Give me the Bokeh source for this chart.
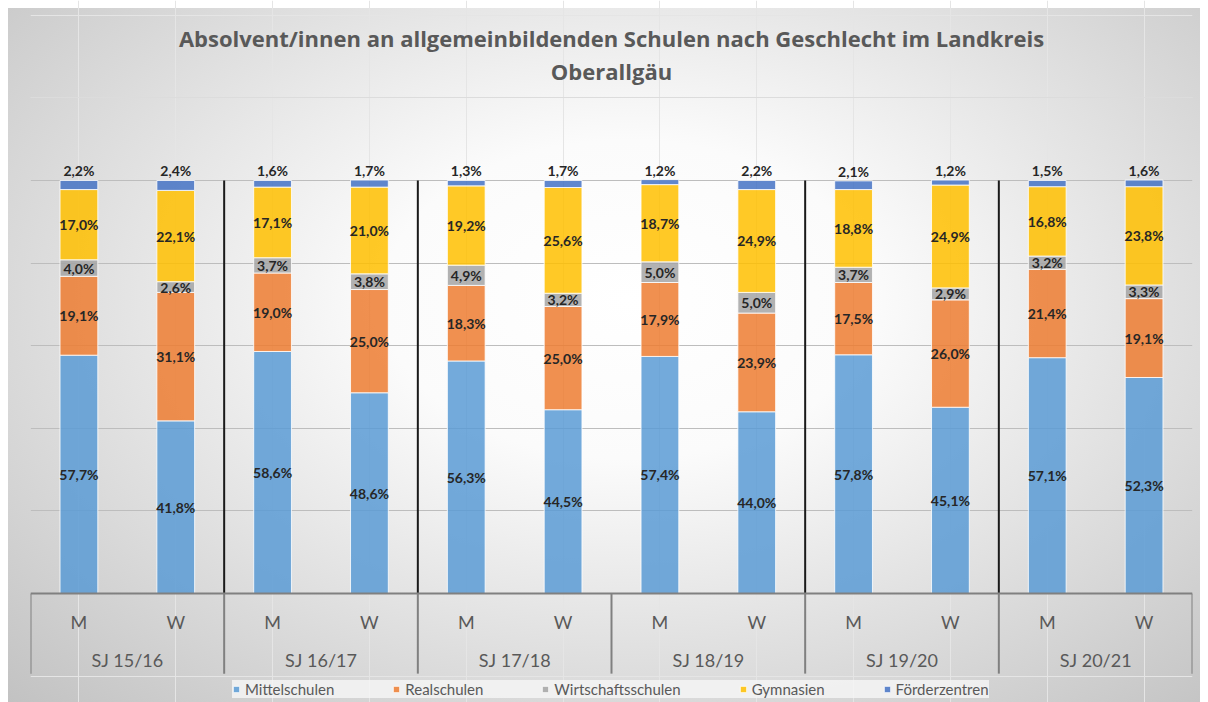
from bokeh.plotting import figure
from bokeh.models import (FactorRange, Range1d, ColumnDataSource, Grid, FixedTicker,
                          Span, Legend, LegendItem)
from bokeh.core.properties import value
from bokeh.embed import file_html
from bokeh.resources import INLINE

title_lines = ["Absolvent/innen an allgemeinbildenden Schulen nach Geschlecht im Landkreis",
               "Oberallgäu"]
years = ["SJ 15/16", "SJ 16/17", "SJ 17/18", "SJ 18/19", "SJ 19/20", "SJ 20/21"]
genders = ["M", "W"]
series = ["Mittelschulen", "Realschulen", "Wirtschaftsschulen", "Gymnasien", "Förderzentren"]
colors = ["#5B9BD5", "#ED7D31", "#A5A5A5", "#FFC000", "#4472C4"]

# values in percent, order: (15/16 M, 15/16 W, 16/17 M, 16/17 W, ...)
mittelschulen = [57.7, 41.8, 58.6, 48.6, 56.3, 44.5, 57.4, 44.0, 57.8, 45.1, 57.1, 52.3]
realschulen = [19.1, 31.1, 19.0, 25.0, 18.3, 25.0, 17.9, 23.9, 17.5, 26.0, 21.4, 19.1]
wirtschaftsschulen = [4.0, 2.6, 3.7, 3.8, 4.9, 3.2, 5.0, 5.0, 3.7, 2.9, 3.2, 3.3]
gymnasien = [17.0, 22.1, 17.1, 21.0, 19.2, 25.6, 18.7, 24.9, 18.8, 24.9, 16.8, 23.8]
foerderzentren = [2.2, 2.4, 1.6, 1.7, 1.3, 1.7, 1.2, 2.2, 2.1, 1.2, 1.5, 1.6]
dividers_after = ["SJ 15/16", "SJ 16/17", "SJ 18/19", "SJ 19/20"]
grid_ticks = [0.2, 0.4, 0.6, 0.8, 1.0]
top_grid_ticks = [1.2]

factors = [(y, g) for y in years for g in genders]
values = [mittelschulen, realschulen, wirtschaftsschulen, gymnasien, foerderzentren]

data = {"x": factors}
for name, vals in zip(series, values):
    data[name] = [v / 100 for v in vals]
src = ColumnDataSource(data)

W, H = 1200, 702
p = figure(width=W, height=H,
           x_range=FactorRange(factors=factors, factor_padding=0, group_padding=0,
                               subgroup_padding=0, range_padding=0),
           y_range=Range1d(-0.2639, 1.4358),
           x_axis_location=None, y_axis_location=None,
           output_backend="svg", toolbar_location=None,
           min_border_left=30, min_border_right=8, min_border_top=0, min_border_bottom=0)
p.extra_y_ranges = {"py": Range1d(H, 0)}
p.background_fill_color = None
p.border_fill_color = None
p.outline_line_color = None
p.styles = {"background": "radial-gradient(ellipse farthest-corner at 52% 42%, #ffffff 0%, #fbfbfb 28%, #c2c2c2 100%) 8px 8px / calc(100% - 8px) calc(100% - 8px) no-repeat, #ffffff"}

p.add_layout(Grid(dimension=1, ticker=FixedTicker(ticks=grid_ticks),
                  grid_line_color="#bdbdbd", grid_line_width=1))
p.add_layout(Grid(dimension=1, ticker=FixedTicker(ticks=top_grid_ticks),
                  grid_line_color="#dcdcdc", grid_line_width=1))

rs = p.vbar_stack(series, x="x", width=0.39, source=src, color=colors,
                  fill_alpha=0.85, line_color="white", line_alpha=0.8, line_width=1)

# data labels
lx, ly, lt = [], [], []
tx, ty, tt = [], [], []
for i, f in enumerate(factors):
    bottom = 0.0
    for k, vals in enumerate(values):
        v = vals[i] / 100
        label = f"{vals[i]:.1f}".replace(".", ",") + "%"
        if k < len(values) - 1:
            lx.append(f); ly.append(bottom + v / 2); lt.append(label)
        else:
            tx.append(f); ty.append(bottom + v); tt.append(label)
        bottom += v
p.text(x=lx, y=ly, text=lt, text_font=value("Lato"), text_font_style="bold",
       text_font_size="14px", text_color="#262626", text_align="center", text_baseline="middle")
p.text(x=tx, y=ty, text=tt, text_font=value("Lato"), text_font_style="bold",
       text_font_size="14px", text_color="#262626", text_align="center", text_baseline="bottom",
       y_offset=-1)

# dark dividers between groups
dx = [(g, "W", 0.5) for g in dividers_after]
p.segment(x0=dx, y0=[0] * len(dx), x1=dx, y1=[1.0] * len(dx), line_color="#1a1a1a", line_width=2)

# axis table
p.add_layout(Span(location=0, dimension="width", line_color="#808080", line_width=2))
bx = [(g, "M", -0.5) for g in years] + [(years[-1], "W", 0.5)]
p.segment(x0=bx, y0=[0] * len(bx), x1=bx, y1=[-0.194] * len(bx), line_color="#808080", line_width=2)
p.text(x=factors, y=[-0.07] * len(factors), text=[f[1] for f in factors], text_font=value("Lato"),
       text_font_size="18px", text_color="#595959", text_align="center", text_baseline="middle")
gx = [(g, "M", 0.5) for g in years]
p.text(x=gx, y=[-0.162] * len(gx), text=years, text_font=value("Lato"),
       text_font_size="18px", text_color="#595959", text_align="center", text_baseline="middle")

# title (centered on the middle of the category range)
mid = (years[len(years) // 2 - 1], "W", 0.5)
p.text(x=[mid, mid], y=[37, 70], text=title_lines, y_range_name="py",
       text_font=value("Open Sans"), text_font_style="bold", text_font_size="22px",
       text_color="#595959", text_align="center", text_baseline="middle")

legend = Legend(items=[LegendItem(label=s, renderers=[r]) for s, r in zip(series, rs)],
                orientation="horizontal", location=(202, 4), padding=14, spacing=58,
                glyph_width=8, glyph_height=8, label_standoff=5,
                label_text_font="Lato", label_text_font_size="15px", label_text_color="#595959",
                background_fill_color="#f6f6f6", background_fill_alpha=0.8, border_line_color=None)
p.add_layout(legend)

open("out.html", "w").write(file_html(p, INLINE))
